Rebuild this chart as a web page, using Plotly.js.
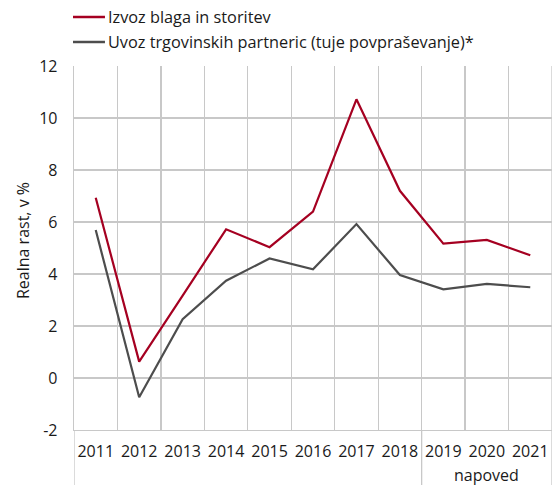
<!DOCTYPE html>
<html>
<head>
<meta charset="utf-8">
<script src="https://cdn.plot.ly/plotly-3.0.1.min.js"></script>
<style>html,body{margin:0;padding:0;background:#fff;}#chart{width:558px;height:485px;}</style>
</head>
<body>
<div id="chart"></div>
<script>
const years = ["2011","2012","2013","2014","2015","2016","2017","2018","2019","2020","2021"];
const izvoz = [6.93, 0.63, 3.17, 5.72, 5.03, 6.4, 10.72, 7.2, 5.17, 5.31, 4.72];
const uvozPartnerjev = [5.69, -0.74, 2.26, 3.74, 4.6, 4.18, 5.92, 3.96, 3.41, 3.62, 3.49];
const seriesNames = ["Izvoz blaga in storitev", "Uvoz trgovinskih partneric (tuje povpraševanje)*"];
const seriesColors = ["#a50021", "#4d4d4d"];
const yTicks = [-2, 0, 2, 4, 6, 8, 10, 12];
const forecastLabel = "napoved";
const yTitle = "Realna rast, v %";

const font = "'Open Sans', 'Noto Sans', sans-serif";
const txtColor = "#1a1a1a";
const gridColor = "#c8c8c8";
const W = 558, H = 485, ML = 74, MR = 5.5, MT = 66, MB = 55;
const PW = W - ML - MR, PH = H - MT - MB;
const px = v => (v - ML) / PW;          // pixel x -> paper x
const py = v => (H - MB - v) / PH;      // pixel y -> paper y

const traces = [
  {x: years, y: izvoz, name: seriesNames[0], type: "scatter", mode: "lines",
   line: {color: seriesColors[0], width: 2.2}, showlegend: false},
  {x: years, y: uvozPartnerjev, name: seriesNames[1], type: "scatter", mode: "lines",
   line: {color: seriesColors[1], width: 2.2}, showlegend: false}
];

const legendRows = [17, 42];
const shapes = [
  {type: "line", xref: "x", yref: "paper", x0: -0.5, x1: -0.5, y0: 0, y1: py(H),
   line: {color: gridColor, width: 1.3}},
  {type: "line", xref: "x", yref: "paper", x0: 7.5, x1: 7.5, y0: 0, y1: py(H),
   line: {color: gridColor, width: 1.3}},
  {type: "line", xref: "x", yref: "paper", x0: 10.5, x1: 10.5, y0: py(H), y1: 1,
   line: {color: gridColor, width: 1.3}}
];
const annotations = [
  {text: forecastLabel, xref: "x", yref: "paper", x: 9, y: py(475), yanchor: "middle",
   showarrow: false, font: {family: font, size: 16, color: txtColor}},
  {text: yTitle, xref: "paper", yref: "paper", x: px(22.5), y: py(240.5), textangle: -90,
   xanchor: "center", yanchor: "middle", showarrow: false,
   font: {family: font, size: 16, color: txtColor}}
];
seriesNames.forEach((n, i) => {
  shapes.push({type: "line", xref: "paper", yref: "paper", x0: px(73), x1: px(105),
               y0: py(legendRows[i]), y1: py(legendRows[i]),
               line: {color: seriesColors[i], width: 2.5}});
  annotations.push({text: n, xref: "paper", yref: "paper", x: px(106), y: py(legendRows[i]),
                    xanchor: "left", yanchor: "middle", showarrow: false,
                    font: {family: font, size: 16.3, color: txtColor}});
});

const layout = {
  width: W, height: H,
  margin: {l: ML, r: MR, t: MT, b: MB, autoexpand: false},
  paper_bgcolor: "#fff", plot_bgcolor: "#fff",
  font: {family: font, size: 16, color: txtColor},
  showlegend: false,
  xaxis: {type: "category", range: [-0.5, 10.5], tickson: "boundaries",
          showgrid: true, gridcolor: gridColor, gridwidth: 1.3,
          showline: true, linecolor: gridColor, linewidth: 1.3,
          ticks: "", tickangle: 0, ticklabelstandoff: 6,
          tickfont: {family: font, size: 16, color: txtColor},
          zeroline: false, fixedrange: true, automargin: false},
  yaxis: {range: [-2, 12], tickvals: yTicks, ticktext: yTicks.map(String),
          showgrid: true, gridcolor: gridColor, gridwidth: 1.3,
          showline: true, linecolor: gridColor, linewidth: 1.3,
          zeroline: false, ticks: "", ticklabelstandoff: 12,
          tickfont: {family: font, size: 16, color: txtColor},
          fixedrange: true, automargin: false},
  shapes: shapes,
  annotations: annotations
};

Plotly.newPlot("chart", traces, layout, {displayModeBar: false, staticPlot: true});
</script>
</body>
</html>
